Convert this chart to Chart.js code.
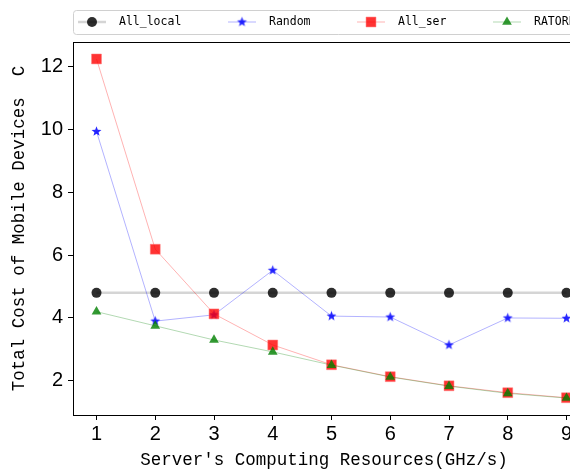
<!DOCTYPE html>
<html>
<head>
<meta charset="utf-8">
<script src="https://cdn.jsdelivr.net/npm/chart.js@4/dist/chart.umd.min.js"></script>
<style>
  html, body { margin: 0; padding: 0; background: #fff; overflow: hidden; }
  #wrap { width: 600px; height: 473px; }
</style>
</head>
<body>
<div id="wrap"><canvas id="c" width="600" height="473"></canvas></div>
<script>
// Server computing resources (GHz/s)
const resources = [1, 2, 3, 4, 5, 6, 7, 8, 9];
// Total cost of mobile devices per strategy
const allLocal = [4.8, 4.8, 4.8, 4.8, 4.8, 4.8, 4.8, 4.8, 4.8];
const randomCost = [9.94, 3.9, 4.1, 5.52, 4.06, 4.03, 3.14, 4.0, 3.99];
const allSer = [12.25, 6.19, 4.13, 3.14, 2.51, 2.13, 1.84, 1.62, 1.46];
const ratorl = [4.2, 3.75, 3.3, 2.92, 2.5, 2.12, 1.83, 1.6, 1.45];
const seriesNames = ['All_local', 'Random', 'All_ser', 'RATORL'];
const xTicks = [1, 2, 3, 4, 5, 6, 7, 8, 9];
const yTicks = [2, 4, 6, 8, 10, 12];
const xTitle = "Server's Computing Resources(GHz/s)";
const yTitle = 'Total Cost of Mobile Devices  C';

// filled five-point star marker
function starMarker(color, rOut, rIn) {
  const s = Math.ceil(rOut * 2) + 2;
  const cv = document.createElement('canvas');
  cv.width = s; cv.height = s;
  const g = cv.getContext('2d');
  g.fillStyle = color;
  g.beginPath();
  for (let i = 0; i < 10; i++) {
    const r = i % 2 === 0 ? rOut : rIn;
    const a = -Math.PI / 2 + i * Math.PI / 5;
    const px = s / 2 + r * Math.cos(a), py = s / 2 + r * Math.sin(a);
    if (i === 0) g.moveTo(px, py); else g.lineTo(px, py);
  }
  g.closePath();
  g.fill();
  return cv;
}
const star = starMarker('rgba(0,0,255,0.85)', 5.2, 2.2);

const toXY = arr => arr.map((v, i) => ({ x: resources[i], y: v }));

const datasets = [
  { label: seriesNames[0], data: toXY(allLocal), order: 4,
    borderColor: 'rgba(150,150,150,0.4)', borderWidth: 2.5,
    pointStyle: 'circle', pointRadius: 5, pointBackgroundColor: 'rgba(0,0,0,0.82)',
    pointBorderColor: 'rgba(0,0,0,0.82)', pointBorderWidth: 0 },
  { label: seriesNames[1], data: toXY(randomCost), order: 3,
    borderColor: 'rgba(0,0,255,0.3)', borderWidth: 1,
    pointStyle: star, pointRadius: 5,
    pointBackgroundColor: 'rgba(0,0,255,0.85)', pointBorderColor: 'rgba(0,0,255,0.85)' },
  { label: seriesNames[2], data: toXY(allSer), order: 2,
    borderColor: 'rgba(255,0,0,0.3)', borderWidth: 1,
    pointStyle: 'rect', pointRadius: 7, pointBackgroundColor: 'rgba(255,0,0,0.8)',
    pointBorderColor: 'rgba(255,120,120,0.5)', pointBorderWidth: 1 },
  { label: seriesNames[3], data: toXY(ratorl), order: 1,
    borderColor: 'rgba(0,128,0,0.3)', borderWidth: 1,
    pointStyle: 'triangle', pointRadius: 5.6, pointBackgroundColor: 'rgba(0,128,0,0.8)',
    pointBorderColor: 'rgba(0,128,0,0.8)', pointBorderWidth: 0 }
];

const monoFamily = '"DejaVu Sans Mono", "Liberation Mono", monospace';

// frame around the plotting area and the horizontal axis title
const framePlugin = {
  id: 'frame',
  afterDatasetsDraw(chart) {
    const { ctx, chartArea: a } = chart;
    ctx.save();
    ctx.strokeStyle = '#000';
    ctx.lineWidth = 1;
    ctx.strokeRect(a.left + 0.5, a.top + 0.5, a.right - a.left, a.bottom - a.top);
    ctx.font = '17.5px "Liberation Mono", "DejaVu Sans Mono", monospace';
    ctx.fillStyle = '#000';
    ctx.textAlign = 'center';
    ctx.textBaseline = 'middle';
    ctx.fillText(xTitle, 324, 460);
    ctx.restore();
  }
};

// boxed legend in a single row above the plot
const legendPlugin = {
  id: 'boxLegend',
  afterDraw(chart) {
    const ctx = chart.ctx;
    const cols = [92, 242, 371, 507];
    const y = 22;
    ctx.save();
    ctx.strokeStyle = '#d0d0d0';
    ctx.lineWidth = 1;
    ctx.fillStyle = 'rgba(255,255,255,0.9)';
    ctx.beginPath();
    ctx.roundRect(73.5, 10.5, 560, 24, 3);
    ctx.fill();
    ctx.stroke();
    ctx.font = '11.5px ' + monoFamily;
    ctx.textBaseline = 'middle';
    chart.data.datasets.forEach((ds, i) => {
      const cx = cols[i];
      ctx.strokeStyle = ds.borderColor;
      ctx.lineWidth = ds.borderWidth;
      ctx.beginPath();
      ctx.moveTo(cx - 14, y); ctx.lineTo(cx + 14, y);
      ctx.stroke();
      ctx.fillStyle = ds.pointBackgroundColor;
      ctx.strokeStyle = ds.pointBorderColor;
      ctx.lineWidth = ds.pointBorderWidth || 0;
      Chart.helpers.drawPoint(ctx, { pointStyle: ds.pointStyle, radius: ds.pointRadius, rotation: 0, borderWidth: ds.pointBorderWidth || 0 }, cx, y);
      ctx.fillStyle = '#000';
      ctx.fillText(ds.label, cx + 27, y + 0.5);
    });
    ctx.restore();
  }
};

const tickFont = { family: '"Liberation Sans", Arial, sans-serif', size: 20 };
const titleFont = { family: '"Liberation Mono", "DejaVu Sans Mono", monospace', size: 17.5 };

new Chart(document.getElementById('c'), {
  type: 'line',
  data: { datasets },
  options: {
    responsive: false,
    animation: false,
    layout: { padding: { left: 0, right: 10, top: 42, bottom: 0 } },
    plugins: { legend: { display: false }, tooltip: { enabled: false } },
    scales: {
      x: {
        type: 'linear', min: 0.6, max: 9.4,
        afterBuildTicks: s => { s.ticks = xTicks.map(v => ({ value: v })); },
        afterFit: s => { s.height = 58; },
        grid: { drawOnChartArea: false, drawTicks: true, tickLength: 5, color: '#000' },
        border: { display: true, color: '#000', width: 1 },
        ticks: { color: '#000', font: tickFont, padding: 2, maxRotation: 0 },
        title: { display: false }
      },
      y: {
        type: 'linear', min: 0.91, max: 12.79,
        afterBuildTicks: s => { s.ticks = yTicks.map(v => ({ value: v })); },
        afterFit: s => { s.width = 73; },
        grid: { drawOnChartArea: false, drawTicks: true, tickLength: 5, color: '#000' },
        border: { display: true, color: '#000', width: 1 },
        ticks: { color: '#000', font: tickFont, padding: 5 },
        title: { display: true, text: yTitle, color: '#000',
                 font: titleFont, padding: { top: 9, bottom: 0 } }
      }
    }
  },
  plugins: [framePlugin, legendPlugin]
});
</script>
</body>
</html>
